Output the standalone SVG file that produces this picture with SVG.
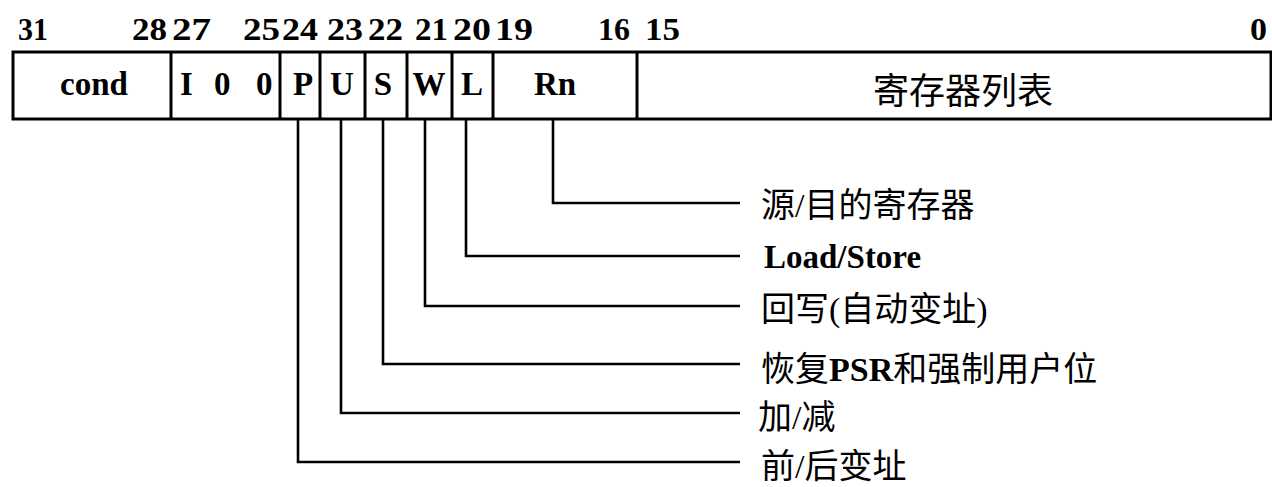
<svg xmlns="http://www.w3.org/2000/svg" width="1272" height="487" viewBox="0 0 1272 487">
<style>
text{font-family:"Liberation Serif","Noto Sans CJK SC",serif;fill:#000}
.num{font-size:31px;font-weight:bold}
.cell{font-size:33px;font-weight:bold}
.cjk{font-size:36px}
.lab{font-size:34px}
.latin{font-size:33px;font-weight:bold}
.box{fill:none;stroke:#000;stroke-width:3}
.conn{fill:none;stroke:#000;stroke-width:2.6}
</style>
<rect width="1272" height="487" fill="#fff"/>
<g id="bit-numbers" class="num">
<text x="18" y="40" textLength="30" lengthAdjust="spacingAndGlyphs">31</text>
<text x="132" y="40" textLength="35" lengthAdjust="spacingAndGlyphs">28</text>
<text x="172" y="40" textLength="39" lengthAdjust="spacingAndGlyphs">27</text>
<text x="243" y="40" textLength="37" lengthAdjust="spacingAndGlyphs">25</text>
<text x="282" y="40" textLength="36" lengthAdjust="spacingAndGlyphs">24</text>
<text x="327" y="40" textLength="36" lengthAdjust="spacingAndGlyphs">23</text>
<text x="368" y="40" textLength="35" lengthAdjust="spacingAndGlyphs">22</text>
<text x="415" y="40" textLength="33" lengthAdjust="spacingAndGlyphs">21</text>
<text x="453" y="40" textLength="38" lengthAdjust="spacingAndGlyphs">20</text>
<text x="495" y="40" textLength="38" lengthAdjust="spacingAndGlyphs">19</text>
<text x="598" y="40" textLength="32" lengthAdjust="spacingAndGlyphs">16</text>
<text x="645" y="40" textLength="35" lengthAdjust="spacingAndGlyphs">15</text>
<text x="1250" y="40" textLength="17" lengthAdjust="spacingAndGlyphs">0</text>
</g>
<g id="register">
<rect class="box" x="13" y="52" width="1258" height="67"/>
<path class="box" d="M171 52V119M280 52V119M320 52V119M365 52V119M407 52V119M452 52V119M493 52V119M637 52V119"/>
</g>
<g id="field-cond"><text class="cell" x="94" y="95" text-anchor="middle">cond</text></g>
<g id="field-100"><text class="cell" x="180 193 214 230 256" y="95">I 0 0</text></g>
<g id="field-P"><text class="cell" x="303" y="95" text-anchor="middle">P</text></g>
<g id="field-U"><text class="cell" x="342" y="95" text-anchor="middle">U</text></g>
<g id="field-S"><text class="cell" x="383" y="95" text-anchor="middle">S</text></g>
<g id="field-W"><text class="cell" x="429" y="95" text-anchor="middle">W</text></g>
<g id="field-L"><text class="cell" x="472" y="95" text-anchor="middle">L</text></g>
<g id="field-Rn"><text class="cell" x="555" y="95" text-anchor="middle">Rn</text></g>
<g id="field-list"><text class="cjk" x="963" y="104" text-anchor="middle">寄存器列表</text></g>
<g id="connectors">
<path class="conn" d="M553 119V203H740"/>
<path class="conn" d="M466 119V256H740"/>
<path class="conn" d="M425 119V306H740"/>
<path class="conn" d="M383 119V364H740"/>
<path class="conn" d="M341 119V413H740"/>
<path class="conn" d="M298 119V462H740"/>
</g>
<g id="label-rn"><text class="lab" x="761" y="217">源/目的寄存器</text></g>
<g id="label-l"><text class="latin" x="764" y="268">Load/Store</text></g>
<g id="label-w"><text class="lab" x="761" y="321">回写(自动变址)</text></g>
<g id="label-s"><text class="lab" x="761" y="381">恢复<tspan font-weight="bold">PSR</tspan>和强制用户位</text></g>
<g id="label-u"><text class="lab" x="758" y="429">加/减</text></g>
<g id="label-p"><text class="lab" x="761" y="478">前/后变址</text></g>
</svg>
